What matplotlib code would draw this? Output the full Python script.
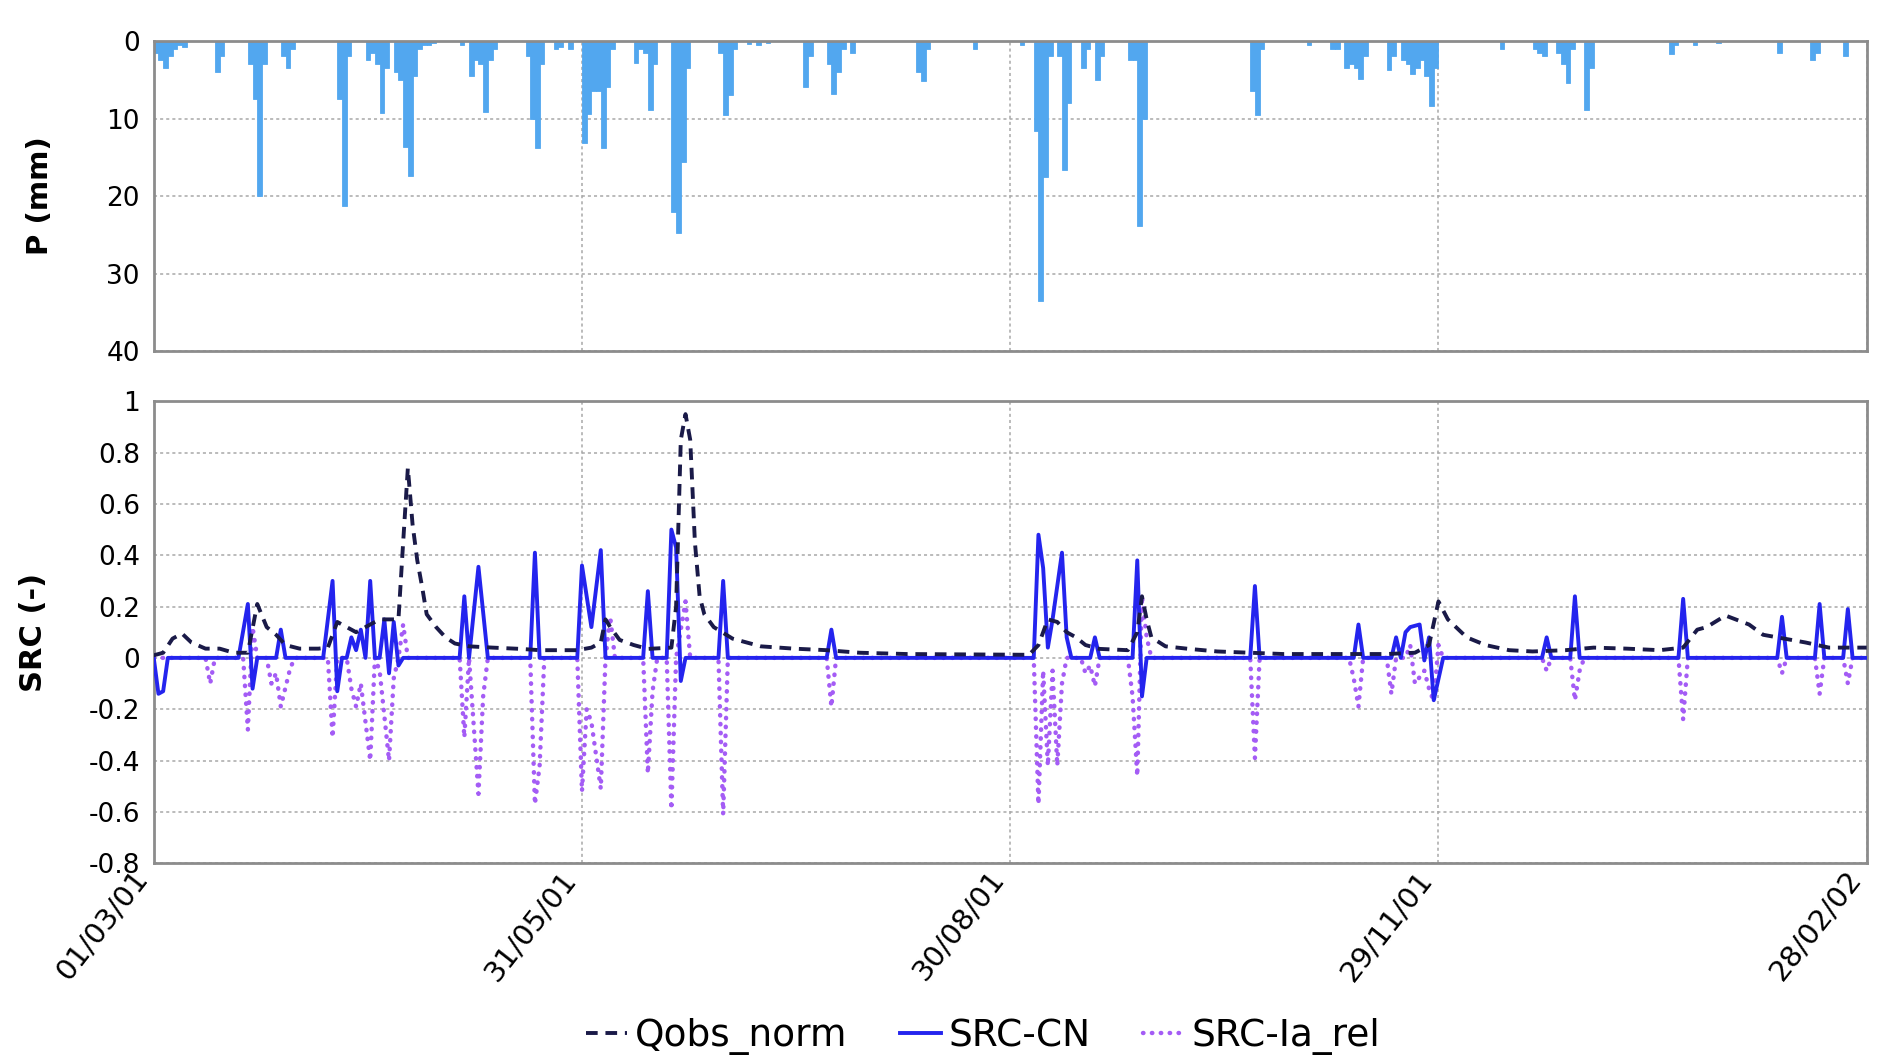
import matplotlib
matplotlib.use("Agg")
import matplotlib.pyplot as plt
from matplotlib.lines import Line2D

plt.rcParams['font.family'] = ['DejaVu Sans']

# ---------------- data ----------------
date_ticks = [0, 91, 182, 273, 364]
date_labels = ['01/03/01', '31/05/01', '30/08/01', '29/11/01', '28/02/02']

p_ticks = [0, 10, 20, 30, 40]
src_ticks = [1, 0.8, 0.6, 0.4, 0.2, 0, -0.2, -0.4, -0.6, -0.8]
src_labels = ['1', '0.8', '0.6', '0.4', '0.2', '0', '-0.2', '-0.4', '-0.6', '-0.8']

# daily precipitation (day since 01/03/01, mm)
precip = [(0, 1.5), (1, 2.5), (2, 3.5), (3, 2), (4, 1), (5, 0.5), (6, 0.8),
          (13, 4), (14, 2),
          (20, 3), (21, 7.5), (22, 20), (23, 3),
          (27, 2), (28, 3.5), (29, 1),
          (39, 7.5), (40, 21.3), (41, 2),
          (45, 2.5), (46, 1.5), (47, 3), (48, 9.3), (49, 3.5),
          (51, 4), (52, 5), (53, 13.7), (54, 17.4), (55, 4.5), (56, 1), (57, 0.5), (58, 0.5), (59, 0.3),
          (65, 0.5),
          (67, 4.5), (68, 2.5), (69, 3), (70, 9.1), (71, 2.5), (72, 1),
          (79, 2), (80, 10), (81, 13.8), (82, 3),
          (85, 1), (86, 0.8), (88, 1),
          (91, 13.2), (92, 9.4), (93, 6.5), (94, 6.5), (95, 13.8), (96, 6), (97, 1),
          (102, 2.8), (103, 1), (104, 1.5), (105, 8.9), (106, 3),
          (110, 22), (111, 24.7), (112, 15.6), (113, 3.5),
          (120, 1.5), (121, 9.6), (122, 7), (123, 1),
          (126, 0.4), (128, 0.5), (130, 0.3),
          (138, 5.9), (139, 2),
          (143, 3), (144, 6.9), (145, 4), (146, 1),
          (148, 1.5),
          (162, 4), (163, 5.1), (164, 1),
          (174, 1), (184, 0.5),
          (187, 11.6), (188, 33.5), (189, 17.5), (190, 2),
          (192, 2), (193, 16.6), (194, 8),
          (197, 3.5), (198, 1), (200, 5), (201, 2),
          (207, 2.5), (208, 2.5), (209, 23.9), (210, 10),
          (233, 6.5), (234, 9.6), (235, 1),
          (245, 0.5), (250, 1), (251, 1),
          (253, 3.5), (254, 3), (255, 3.5), (256, 4.9), (257, 2),
          (262, 3.7), (263, 2),
          (265, 2.5), (266, 3), (267, 4.2), (268, 3.5), (269, 2.5), (270, 4.5), (271, 8.4), (272, 3.5),
          (286, 1),
          (293, 1), (294, 1.5), (295, 2),
          (298, 1.5), (299, 3), (300, 5.4), (301, 1),
          (304, 8.9), (305, 3.5),
          (322, 1.7), (323, 0.5), (327, 0.5), (332, 0.3),
          (345, 1.6), (352, 2.5), (353, 1.5), (359, 2)]

qobs_norm = [(0, 0.01), (2, 0.02), (4, 0.075), (6, 0.095), (8, 0.06), (11, 0.036), (14, 0.036),
             (17, 0.02), (20, 0.02), (22, 0.21), (24, 0.12), (26, 0.09), (28, 0.05), (31, 0.036),
             (35, 0.036), (37, 0.04), (39, 0.14), (41, 0.12), (43, 0.10), (45, 0.12), (48, 0.15),
             (51, 0.15), (52, 0.15), (53, 0.45), (54, 0.74), (55, 0.52), (56, 0.38), (57, 0.28),
             (58, 0.17), (60, 0.12), (62, 0.08), (64, 0.056), (67, 0.045), (72, 0.04), (78, 0.035),
             (82, 0.03), (90, 0.03), (93, 0.04), (95, 0.06), (96, 0.15), (97, 0.12), (99, 0.07),
             (102, 0.05), (105, 0.035), (110, 0.04), (111, 0.2), (112, 0.85), (113, 0.95),
             (114, 0.85), (115, 0.45), (116, 0.24), (117, 0.17), (119, 0.12), (123, 0.075),
             (129, 0.045), (136, 0.036), (143, 0.03), (150, 0.02), (160, 0.015), (186, 0.012),
             (188, 0.05), (190, 0.15), (192, 0.14), (194, 0.10), (196, 0.08), (198, 0.05),
             (201, 0.035), (207, 0.03), (209, 0.10), (210, 0.24), (211, 0.15), (212, 0.08),
             (215, 0.045), (220, 0.035), (226, 0.025), (233, 0.02), (240, 0.015), (262, 0.015),
             (268, 0.02), (271, 0.05), (273, 0.22), (275, 0.15), (279, 0.08), (283, 0.05),
             (288, 0.03), (293, 0.025), (300, 0.03), (306, 0.04), (313, 0.036), (320, 0.03),
             (325, 0.04), (328, 0.11), (330, 0.12), (334, 0.165), (339, 0.13), (342, 0.09),
             (348, 0.07), (351, 0.06), (356, 0.04), (364, 0.04)]

src_cn = [(0, 0.0), (1, -0.14), (2, -0.13), (3, 0.0), (18, 0.0), (20, 0.21), (21, -0.12), (22, 0.0),
          (26, 0.0), (27, 0.11), (28, 0.0), (36, 0.0), (38, 0.30), (39, -0.13), (40, 0.0),
          (41, 0.0), (42, 0.08), (43, 0.03), (44, 0.11), (45, 0.0), (46, 0.30), (47, 0.0),
          (48, 0.0), (49, 0.15), (50, -0.06), (51, 0.14), (52, -0.03), (53, 0.0),
          (65, 0.0), (66, 0.24), (67, 0.0), (69, 0.355), (71, 0.0),
          (80, 0.0), (81, 0.41), (82, 0.0),
          (90, 0.0), (91, 0.36), (93, 0.12), (95, 0.42), (96, 0.0),
          (104, 0.0), (105, 0.26), (106, 0.0),
          (109, 0.0), (110, 0.50), (111, 0.43), (112, -0.09), (113, 0.0),
          (120, 0.0), (121, 0.30), (122, 0.0),
          (143, 0.0), (144, 0.11), (145, 0.0),
          (187, 0.0), (188, 0.48), (189, 0.35), (190, 0.04), (191, 0.15), (193, 0.41), (194, 0.08), (195, 0.0),
          (199, 0.0), (200, 0.08), (201, 0.0),
          (208, 0.0), (209, 0.38), (210, -0.15), (211, 0.0),
          (233, 0.0), (234, 0.28), (235, 0.0),
          (255, 0.0), (256, 0.13), (257, 0.0),
          (263, 0.0), (264, 0.08), (265, 0.0), (266, 0.10), (267, 0.12), (269, 0.13),
          (270, -0.01), (271, 0.08), (272, -0.165), (274, 0.0),
          (295, 0.0), (296, 0.08), (297, 0.0),
          (301, 0.0), (302, 0.24), (303, 0.0),
          (324, 0.0), (325, 0.23), (326, 0.0),
          (345, 0.0), (346, 0.16), (347, 0.0),
          (353, 0.0), (354, 0.21), (355, 0.0),
          (359, 0.0), (360, 0.19), (361, 0.0), (364, 0.0)]

src_ia_rel = [(0, 0.0), (11, 0.0), (12, -0.10), (13, 0.0),
              (19, 0.0), (20, -0.28), (21, 0.12), (22, 0.0),
              (24, 0.0), (25, -0.10), (26, -0.06), (27, -0.19), (29, -0.04), (30, 0.0),
              (37, 0.0), (38, -0.31), (39, 0.0),
              (41, 0.0), (42, -0.12), (43, -0.19), (44, -0.10), (46, -0.40), (47, 0.0),
              (48, -0.05), (50, -0.40), (51, -0.08), (52, 0.0), (53, 0.13), (54, 0.0),
              (65, 0.0), (66, -0.31), (67, 0.0), (69, -0.53), (70, -0.15), (71, 0.0),
              (80, 0.0), (81, -0.57), (82, -0.42), (83, 0.0),
              (90, 0.0), (91, -0.52), (92, -0.2), (93, -0.25), (95, -0.51), (96, 0.0), (97, 0.16), (98, 0.0),
              (104, 0.0), (105, -0.45), (106, -0.13), (107, 0.0),
              (109, 0.0), (110, -0.59), (111, 0.0), (113, 0.22), (114, 0.0),
              (120, 0.0), (121, -0.61), (122, 0.0),
              (143, 0.0), (144, -0.19), (145, 0.0),
              (187, 0.0), (188, -0.57), (189, -0.05), (190, -0.42), (191, -0.05), (192, -0.42), (193, -0.1), (194, 0.0),
              (197, 0.0), (198, -0.06), (199, -0.03), (200, -0.11), (201, 0.0),
              (207, 0.0), (208, -0.15), (209, -0.46), (210, 0.24), (211, 0.08), (212, 0.0),
              (233, 0.0), (234, -0.39), (235, 0.0),
              (254, 0.0), (255, -0.08), (256, -0.19), (257, 0.0),
              (262, 0.0), (263, -0.14), (264, 0.0),
              (266, 0.0), (267, 0.05), (268, -0.10), (270, -0.05), (271, -0.12), (272, -0.17), (273, 0.05), (274, 0.0),
              (295, 0.0), (296, -0.05), (297, 0.0),
              (301, 0.0), (302, -0.165), (303, -0.05), (304, 0.0),
              (324, 0.0), (325, -0.24), (326, 0.0),
              (345, 0.0), (346, -0.06), (347, 0.0),
              (353, 0.0), (354, -0.14), (355, 0.0),
              (359, 0.0), (360, -0.10), (361, 0.0), (364, 0.0)]

# ---------------- style ----------------
bar_color = '#52a7ef'
qobs_color = '#1a1a48'
cn_color = '#2424ee'
ia_color = '#a45cf5'
grid_color = '#a8a8a8'
spine_color = '#8c8c8c'
dot_style = (0, (0.1, 1.9))
dash_style = (0, (3.0, 2.0))

fig = plt.figure(figsize=(18.98, 10.63), dpi=100)
ax1 = fig.add_axes([0.081, 0.6695, 0.9025, 0.292])
ax2 = fig.add_axes([0.081, 0.188, 0.9025, 0.4345])

for ax in (ax1, ax2):
    ax.set_xlim(0, 364)
    ax.set_xticks(date_ticks)
    ax.grid(True, linestyle=(0, (2, 2)), color=grid_color, linewidth=1.1)
    ax.set_axisbelow(True)
    for s in ax.spines.values():
        s.set_color(spine_color)
        s.set_linewidth(2)
    ax.tick_params(length=0, labelsize=19, pad=10)

# Top panel: precipitation
p_day = [d for d, _ in precip]
p_mm = [v for _, v in precip]
ax1.bar(p_day, p_mm, width=1.0, color=bar_color, align='edge', linewidth=0.6, edgecolor=bar_color)
ax1.set_ylim(40, 0)
ax1.set_yticks(p_ticks)
ax1.set_xticklabels([])
ax1.set_ylabel('P (mm)', fontsize=21, fontweight='bold')
ax1.yaxis.set_label_coords(-0.058, 0.5)

# Bottom panel: SRC
def split(series):
    return [d for d, _ in series], [v for _, v in series]

ia_x, ia_y = split(src_ia_rel)
cn_x, cn_y = split(src_cn)
q_x, q_y = split(qobs_norm)

ax2.plot(ia_x, ia_y, color=ia_color, lw=3.2, linestyle=dot_style,
         dash_capstyle='round', zorder=3)
ax2.plot(cn_x, cn_y, color=cn_color, lw=2.8, zorder=4)
ax2.plot(q_x, q_y, color=qobs_color, lw=2.8, linestyle=dash_style, zorder=5)

ax2.set_ylim(-0.8, 1.0)
ax2.set_yticks(src_ticks)
ax2.set_yticklabels(src_labels)
ax2.set_xticklabels(date_labels, rotation=52, ha='right', va='bottom',
                    rotation_mode='anchor', fontsize=21)
ax2.tick_params(axis='x', pad=14)
ax2.set_ylabel('SRC (-)', fontsize=22, fontweight='bold')
ax2.yaxis.set_label_coords(-0.062, 0.5)

handles = [Line2D([], [], color=qobs_color, lw=2.8, linestyle=dash_style),
           Line2D([], [], color=cn_color, lw=2.8),
           Line2D([], [], color=ia_color, lw=3.2, linestyle=dot_style, dash_capstyle='round')]
fig.legend(handles, ['Qobs_norm', 'SRC-CN', 'SRC-Ia_rel'], loc='center',
           bbox_to_anchor=(0.518, 0.0245), ncol=3, frameon=False, fontsize=27,
           handlelength=1.1, handletextpad=0.2, columnspacing=1.4)

fig.savefig('out.png', dpi=100, facecolor='white')
